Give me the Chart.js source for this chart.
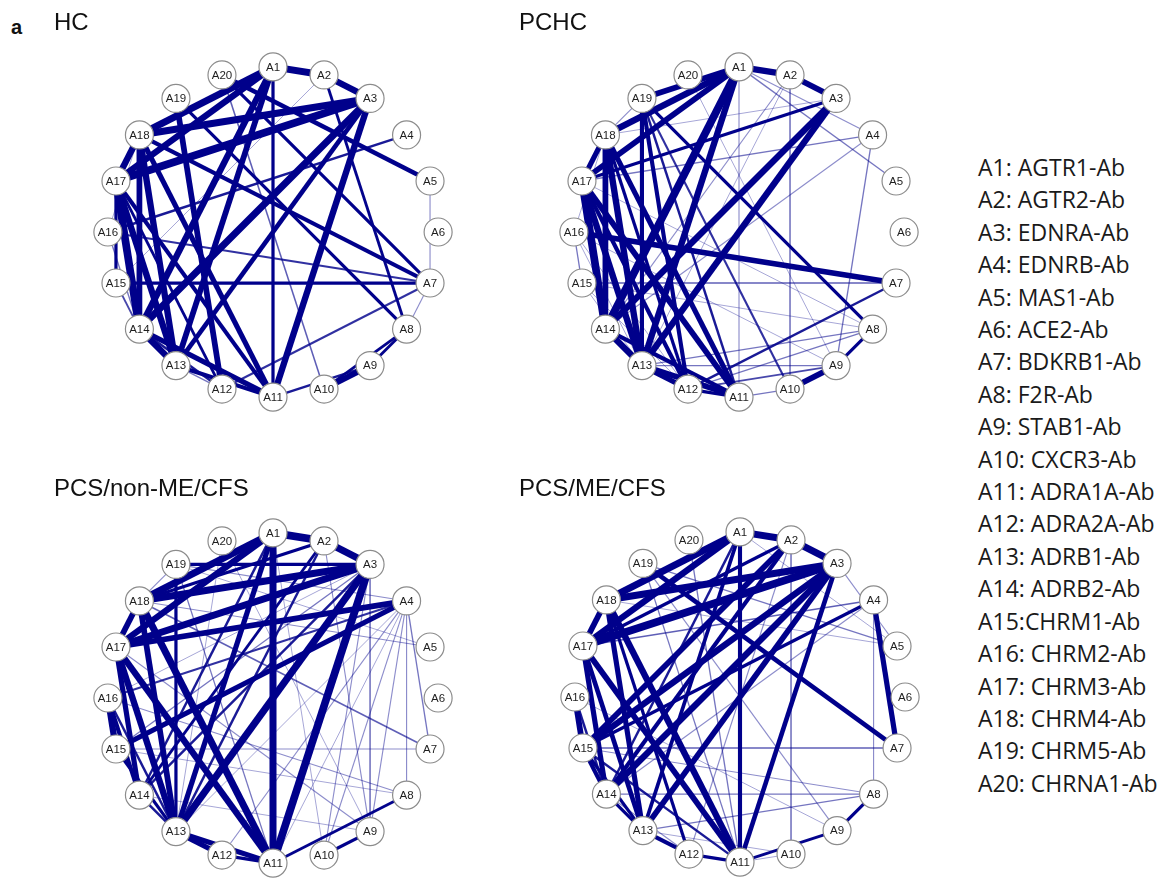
<!DOCTYPE html>
<html>
<head>
<meta charset="utf-8">
<script src="https://cdn.jsdelivr.net/npm/chart.js@4"></script>
<style>
  html, body { margin: 0; padding: 0; background: #ffffff; }
  #page { position: relative; width: 1174px; height: 889px; overflow: hidden; background: #fff; }
  .net { position: absolute; width: 420px; height: 420px; }
  .title { position: absolute; font-family: "Liberation Sans", Arial, sans-serif; font-size: 24px; color: #111; line-height: 1; white-space: nowrap; z-index: 2; }
  #panelTag { position: absolute; left: 11px; top: 16px; font-family: "Liberation Sans", Arial, sans-serif; font-weight: bold; font-size: 20px; color: #111; }
  #key { position: absolute; left: 978px; top: 151px; font-family: "Open Sans", sans-serif; font-size: 23px; line-height: 32.4px; color: #1a1a1a; white-space: nowrap; }
</style>
</head>
<body>
<div id="page">
  <div id="panelTag">a</div>
  <div class="title" style="left:54px; top:10px;">HC</div>
  <div class="title" style="left:519px; top:10px;">PCHC</div>
  <div class="title" style="left:54px; top:476px;">PCS/non-ME/CFS</div>
  <div class="title" style="left:519px; top:476px;">PCS/ME/CFS</div>
  <canvas id="cHC" class="net" width="420" height="420" style="left:63px; top:22px;"></canvas>
  <canvas id="cPCHC" class="net" width="420" height="420" style="left:529px; top:22px;"></canvas>
  <canvas id="cNonME" class="net" width="420" height="420" style="left:63px; top:488px;"></canvas>
  <canvas id="cME" class="net" width="420" height="420" style="left:530px; top:487px;"></canvas>
  <div id="key"></div>
</div>
<script>
// Node names, drawn clockwise from the top of each circle
const nodeLabels = ['A1','A2','A3','A4','A5','A6','A7','A8','A9','A10',
                    'A11','A12','A13','A14','A15','A16','A17','A18','A19','A20'];

const keyEntries = ['A1: AGTR1-Ab','A2: AGTR2-Ab','A3: EDNRA-Ab','A4: EDNRB-Ab','A5: MAS1-Ab',
  'A6: ACE2-Ab','A7: BDKRB1-Ab','A8: F2R-Ab','A9: STAB1-Ab','A10: CXCR3-Ab',
  'A11: ADRA1A-Ab','A12: ADRA2A-Ab','A13: ADRB1-Ab','A14: ADRB2-Ab','A15:CHRM1-Ab',
  'A16: CHRM2-Ab','A17: CHRM3-Ab','A18: CHRM4-Ab','A19: CHRM5-Ab','A20: CHRNA1-Ab'];

// Edges: [from, to, correlation strength 0..1]
const hcEdges = [
  [1,2,.95],[2,3,.9],[1,18,.95],[1,17,.9],[1,14,.9],[1,13,.85],[1,11,.6],
  [3,18,.95],[3,17,1],[3,14,.95],[3,13,.75],[3,11,.9],
  [17,18,.9],[17,14,1],[17,13,.9],[17,12,.55],[17,11,.7],[17,15,.6],
  [18,14,.85],[18,13,.9],[18,11,.8],[18,7,.7],
  [19,12,.85],[19,8,.6],[20,5,.75],[20,7,.6],[20,10,.35],
  [14,13,.9],[14,11,.8],[14,12,.5],[13,11,.7],[13,12,.3],
  [16,7,.45],[15,7,.6],[16,4,.5],[15,14,.4],[16,14,.3],[15,2,.2],[18,16,.2],
  [2,8,.55],[5,7,.25],[7,8,.25],[7,12,.45],
  [8,9,.55],[8,10,.55],[9,10,.85],[9,11,.5]
];

const pchcEdges = [
  [1,2,.9],[2,3,.85],[1,19,.85],[1,18,.9],[1,17,.85],[1,14,1],[1,13,.9],
  [3,17,.6],[3,14,.9],[3,13,.9],
  [17,14,1],[17,13,.9],[17,11,.85],[17,12,.7],[17,18,.8],
  [18,13,.9],[18,11,.8],[18,14,.85],[18,12,.6],
  [19,13,.7],[19,12,.7],[19,11,.5],[19,8,.6],[19,10,.45],
  [16,7,.85],[14,13,.9],[13,12,.8],[13,11,.85],[14,11,.7],[12,11,.6],
  [9,10,.85],[8,9,.6],[7,12,.5],[8,13,.3],[8,12,.3],[9,13,.3],[9,12,.4],[10,11,.3],
  [1,11,.25],[1,5,.3],[1,4,.25],[2,14,.25],[2,10,.2],[4,17,.3],[4,14,.25],[4,9,.3],
  [7,15,.35],[16,15,.3],[15,13,.2],[16,13,.2],[18,16,.2],[19,18,.25],[20,9,.2],
  [3,18,.2],[17,8,.2],[15,8,.2],[16,9,.2],[2,13,.2],[16,12,.2],[15,12,.2]
];

const nonMeEdges = [
  [1,2,1],[2,3,.95],[1,18,.95],[1,17,.9],[1,13,.8],[1,11,.95],[1,14,.5],
  [3,18,.95],[3,17,.95],[3,19,.6],[3,13,.95],[3,11,1],[3,14,.5],
  [2,18,.6],[2,14,.55],[2,13,.5],
  [4,17,.85],[4,15,.8],[4,16,.45],
  [18,11,.95],[17,11,.9],[17,13,.9],[18,13,.85],[17,14,.8],[18,17,.85],[19,13,.6],
  [16,15,.9],[16,14,.7],[16,13,.5],[15,13,.6],[13,12,.8],[13,11,.8],[12,11,.6],[14,13,.5],
  [8,11,.55],[9,10,.6],
  [4,8,.25],[4,9,.25],[4,10,.25],[4,11,.2],[4,12,.25],[4,13,.2],[4,7,.3],[4,19,.25],
  [5,18,.25],[5,19,.2],[7,15,.25],[7,18,.35],[3,10,.25],[3,9,.2],[2,9,.25],[1,10,.2],
  [20,9,.2],[16,8,.25],[15,8,.2],[14,9,.2],[17,9,.25],[19,11,.3],[20,13,.2],[19,18,.25],
  [16,3,.2],[15,3,.3]
];

const meEdges = [
  [1,2,.95],[2,3,.95],[1,18,.95],[1,17,.9],[1,11,.7],[1,13,.65],[1,14,.5],
  [3,18,.95],[3,17,1],[3,15,.9],[3,14,.9],[3,13,.85],[3,11,.75],
  [2,15,.85],[2,14,.7],[2,17,.6],[4,7,.8],[4,15,.6],[19,7,.75],
  [18,11,.9],[17,11,.85],[18,13,.8],[17,13,.75],[18,12,.6],[17,14,.8],[18,17,.85],
  [15,14,.7],[16,15,.85],[16,14,.5],[15,11,.5],[15,13,.6],[14,13,.6],[13,12,.7],[12,11,.6],
  [8,9,.6],[9,11,.55],
  [7,15,.35],[8,13,.3],[8,14,.3],[8,15,.25],[10,11,.2],[4,17,.35],[4,14,.25],
  [5,19,.3],[3,5,.25],[1,5,.2],[2,10,.2],[2,12,.25],[4,8,.25],[19,9,.25],
  [20,11,.3],[19,11,.3],[16,9,.2],[13,10,.2],[18,5,.2],[14,12,.25]
];

// Unit-circle layout: A1 at the top, 18 degrees per step clockwise
function nodePos(k) {
  const a = (90 - (k - 1) * 18) * Math.PI / 180;
  return { x: Math.cos(a), y: Math.sin(a) };
}

// Stronger edges are wider and more opaque
function edgeStyle(w) {
  const alpha = Math.min(1, 1.8 * w);
  return {
    color: 'rgba(0,0,139,' + alpha.toFixed(3) + ')',
    width: 0.7 + 7 * w * w
  };
}

const nodeLabelPlugin = {
  id: 'nodeLabels',
  afterDatasetsDraw(chart) {
    const ctx = chart.ctx;
    const xs = chart.scales.x, ys = chart.scales.y;
    ctx.save();
    ctx.font = '11.5px "Liberation Sans", Arial, sans-serif';
    ctx.fillStyle = '#1e1e1e';
    ctx.textAlign = 'center';
    ctx.textBaseline = 'middle';
    nodeLabels.forEach((lab, i) => {
      const p = nodePos(i + 1);
      ctx.fillText(lab, xs.getPixelForValue(p.x), ys.getPixelForValue(p.y) + 0.5);
    });
    ctx.restore();
  }
};

function drawNetwork(canvasId, edges) {
  const sorted = edges.slice().sort((a, b) => b[2] - a[2]);
  const datasets = [{
    label: 'nodes',
    data: nodeLabels.map((_, i) => nodePos(i + 1)),
    pointRadius: 14,
    pointBackgroundColor: '#ffffff',
    pointBorderColor: '#8c8c8c',
    pointBorderWidth: 1.2,
    showLine: false
  }];
  sorted.forEach(([a, b, w]) => {
    const s = edgeStyle(w);
    datasets.push({
      data: [nodePos(a), nodePos(b)],
      showLine: true,
      borderColor: s.color,
      borderWidth: s.width,
      borderCapStyle: 'butt',
      pointRadius: 0,
      tension: 0
    });
  });
  const lim = 210 / 178;
  new Chart(document.getElementById(canvasId), {
    type: 'scatter',
    data: { datasets },
    options: {
      responsive: false,
      animation: false,
      events: [],
      layout: { padding: 0 },
      scales: {
        x: { type: 'linear', min: -lim, max: lim, display: false },
        y: { type: 'linear', min: -lim, max: lim, display: false }
      },
      plugins: { legend: { display: false }, tooltip: { enabled: false } }
    },
    plugins: [nodeLabelPlugin]
  });
}

drawNetwork('cHC', hcEdges);
drawNetwork('cPCHC', pchcEdges);
drawNetwork('cNonME', nonMeEdges);
drawNetwork('cME', meEdges);

document.getElementById('key').innerHTML = keyEntries.map(t => '<div>' + t + '</div>').join('');
</script>
</body>
</html>
